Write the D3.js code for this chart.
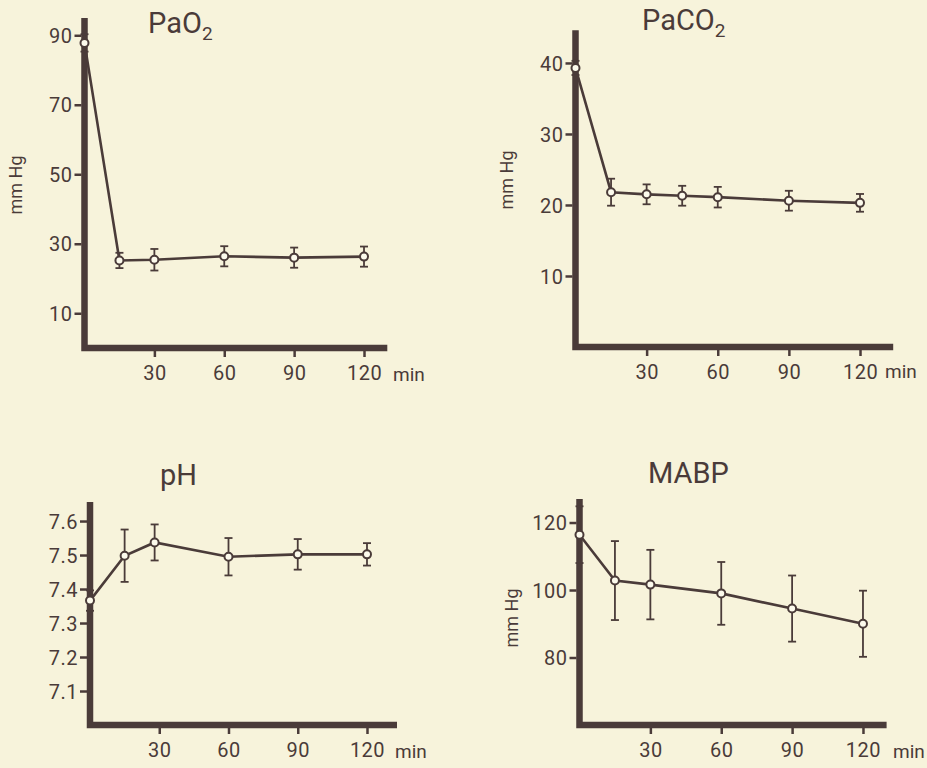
<!DOCTYPE html>
<html>
<head>
<meta charset="utf-8">
<script src="https://cdn.jsdelivr.net/npm/d3@7"></script>
<style>
  html, body { margin: 0; padding: 0; background: #f7f3db; }
  svg { display: block; }
  text { font-family: Roboto, "DejaVu Sans", sans-serif; fill: #4a3b39; }
  .tick text { font-size: 20px; }
</style>
</head>
<body>
<div id="chart"></div>
<script>
// values (mean, +/- error bar)
var xTicks = [30, 60, 90, 120];

var paO2Time = [0, 15, 30, 60, 90, 120],
    paO2Mean = [87.8, 25.2, 25.4, 26.4, 26.0, 26.3],
    paO2Err  = [2.5, 2.2, 3.1, 2.9, 2.9, 2.9],
    paO2Ticks = [10, 30, 50, 70, 90];

var paCO2Time = [0, 15, 30, 45, 60, 90, 120],
    paCO2Mean = [39.3, 21.8, 21.5, 21.3, 21.1, 20.6, 20.3],
    paCO2Err  = [1.0, 1.9, 1.4, 1.4, 1.45, 1.4, 1.25],
    paCO2Ticks = [10, 20, 30, 40];

var phTime = [0, 15, 28, 60, 90, 120],
    phMean = [7.366, 7.498, 7.537, 7.495, 7.502, 7.502],
    phErr  = [0.03, 0.077, 0.053, 0.055, 0.045, 0.033],
    phTicks = [7.1, 7.2, 7.3, 7.4, 7.5, 7.6];

var mabpTime = [0, 15, 30, 60, 90, 120],
    mabpMean = [116.4, 102.8, 101.6, 99.0, 94.5, 90.0],
    mabpErr  = [8.4, 11.7, 10.3, 9.3, 9.8, 9.8],
    mabpTicks = [80, 100, 120];

var ink = "#4a3b39", paper = "#f7f3db";

var width = 927, height = 768;

var svg = d3.select("#chart").append("svg")
    .attr("width", width)
    .attr("height", height);

svg.append("rect").attr("width", width).attr("height", height).attr("fill", paper);

// panel frames (pixel layout only)
var panels = [
  { title: "PaO", sub: "2", titleX: 148, titleY: 33,
    time: paO2Time, mean: paO2Mean, err: paO2Err, yTicks: paO2Ticks, fmt: d3.format("d"),
    xMax: 130, xRange: [84.5, 387.3], yDomain: [0, 95], yRange: [348, 17.9],
    unit: [16, 185], minX: 393, minY: 381 },
  { title: "PaCO", sub: "2", titleX: 642, titleY: 30,
    time: paCO2Time, mean: paCO2Mean, err: paCO2Err, yTicks: paCO2Ticks, fmt: d3.format("d"),
    xMax: 134, xRange: [575.5, 893.2], yDomain: [0, 44.6], yRange: [347, 30.3],
    unit: [507, 180], minX: 885, minY: 378 },
  { title: "pH", sub: "", titleX: 160, titleY: 485,
    time: phTime, mean: phMean, err: phErr, yTicks: phTicks, fmt: d3.format(".1f"),
    xMax: 133, xRange: [90, 397], yDomain: [7.0, 7.656], yRange: [725, 502],
    unit: null, minX: 395, minY: 758 },
  { title: "MABP", sub: "", titleX: 648, titleY: 483,
    time: mabpTime, mean: mabpMean, err: mabpErr, yTicks: mabpTicks, fmt: d3.format("d"),
    xMax: 130, xRange: [579.5, 886.6], yDomain: [60, 127], yRange: [725, 498.9],
    unit: [512, 618], minX: 893, minY: 758 }
];

panels.forEach(drawPanel);

function drawPanel(p) {
  var x = d3.scaleLinear().domain([0, p.xMax]).range(p.xRange);
  var y = d3.scaleLinear().domain(p.yDomain).range(p.yRange);
  var g = svg.append("g");
  var half = 3;

  // y ticks + labels
  var ya = g.append("g")
      .attr("transform", "translate(" + (x(0) - half) + ",0)")
      .call(d3.axisLeft(y).tickValues(p.yTicks).tickFormat(p.fmt).tickSize(7).tickPadding(2));
  ya.select(".domain").remove();
  ya.selectAll(".tick line").attr("stroke", ink).attr("stroke-width", 2.5);
  ya.selectAll(".tick text").attr("dy", "0.36em").style("letter-spacing", "0.5px");

  // x ticks + labels
  var xa = g.append("g")
      .attr("transform", "translate(0," + (y(p.yDomain[0]) + half) + ")")
      .call(d3.axisBottom(x).tickValues(xTicks).tickFormat(d3.format("d")).tickSize(6).tickPadding(9));
  xa.select(".domain").remove();
  xa.selectAll(".tick line").attr("stroke", ink).attr("stroke-width", 2.5);
  xa.selectAll(".tick text").style("letter-spacing", "0.5px");

  // heavy axis frame
  g.append("path")
      .attr("d", "M" + x(0) + "," + y(p.yDomain[1]) +
                 "V" + y(p.yDomain[0]) +
                 "H" + x(p.xMax))
      .attr("fill", "none")
      .attr("stroke", ink)
      .attr("stroke-width", 6.5)
      .attr("stroke-linejoin", "miter");

  var pts = p.time.map(function(t, i) { return { t: t, v: p.mean[i], e: p.err[i] }; });

  // connecting line
  g.append("path")
      .datum(pts)
      .attr("d", d3.line().x(function(d) { return x(d.t); }).y(function(d) { return y(d.v); }))
      .attr("fill", "none")
      .attr("stroke", ink)
      .attr("stroke-width", 2.6);

  // error bars
  var eb = g.selectAll(".err").data(pts).enter().append("g").attr("class", "err");
  eb.append("line")
      .attr("x1", function(d) { return x(d.t); })
      .attr("x2", function(d) { return x(d.t); })
      .attr("y1", function(d) { return y(d.v - d.e); })
      .attr("y2", function(d) { return y(d.v + d.e); })
      .attr("stroke", ink).attr("stroke-width", 1.8);
  [-1, 1].forEach(function(s) {
    eb.append("line")
        .attr("x1", function(d) { return x(d.t) - 4; })
        .attr("x2", function(d) { return x(d.t) + 4; })
        .attr("y1", function(d) { return y(d.v + s * d.e); })
        .attr("y2", function(d) { return y(d.v + s * d.e); })
        .attr("stroke", ink).attr("stroke-width", 1.8);
  });

  // open circles
  g.selectAll(".pt").data(pts).enter().append("circle")
      .attr("class", "pt")
      .attr("cx", function(d) { return x(d.t); })
      .attr("cy", function(d) { return y(d.v); })
      .attr("r", 4)
      .attr("fill", "#fcfaec")
      .attr("stroke", ink)
      .attr("stroke-width", 2);

  // title
  var tt = g.append("text")
      .attr("x", p.titleX).attr("y", p.titleY)
      .style("font-size", "29px");
  tt.append("tspan").text(p.title);
  if (p.sub) tt.append("tspan").attr("dy", 7).style("font-size", "19px").text(p.sub);

  // unit label
  if (p.unit) {
    g.append("text")
      .attr("transform", "translate(" + (p.unit[0] + 6) + "," + p.unit[1] + ") rotate(-90)")
      .attr("text-anchor", "middle")
      .style("font-size", "18px")
      .text("mm Hg");
  }

  g.append("text")
      .attr("x", p.minX).attr("y", p.minY)
      .style("font-size", "19px")
      .text("min");
}
</script>
</body>
</html>
